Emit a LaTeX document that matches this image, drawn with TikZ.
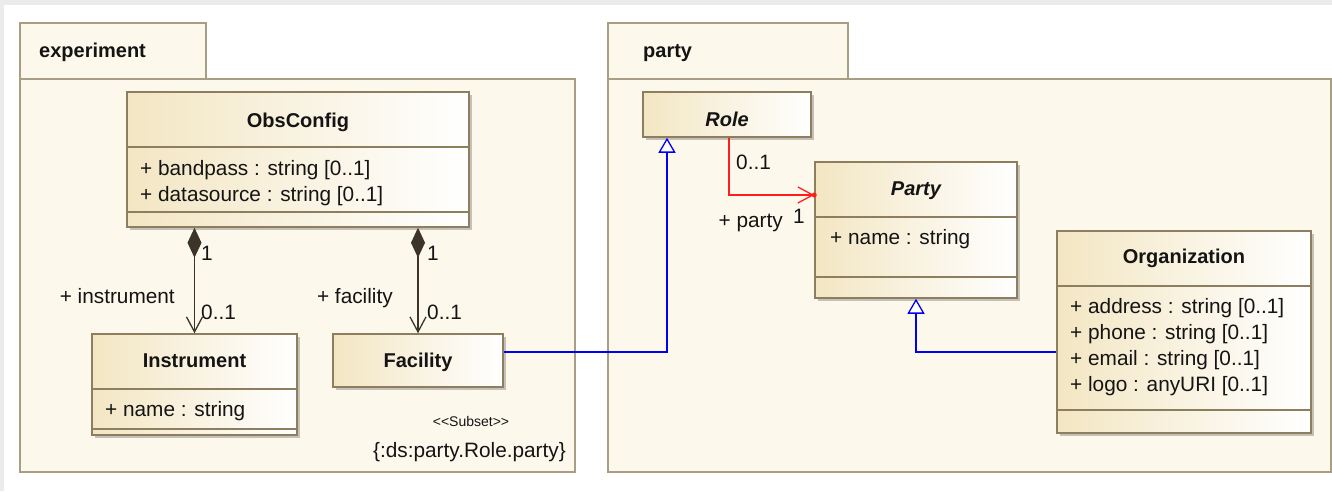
\documentclass[tikz,border=0pt]{standalone}
\usepackage{fontspec}
\setmainfont{Liberation Sans}
\usetikzlibrary{arrows.meta,shadows}
\definecolor{pkgfill}{RGB}{253,248,236}
\definecolor{pkgline}{RGB}{168,158,132}
\definecolor{clsleft}{RGB}{243,230,195}
\definecolor{clsline}{RGB}{140,126,94}
\definecolor{compc}{RGB}{60,52,40}
\definecolor{bggray}{RGB}{235,235,235}
\definecolor{genblue}{RGB}{0,0,245}
\definecolor{assocred}{RGB}{255,30,30}
\definecolor{txtc}{RGB}{20,20,20}
\begin{document}
\begin{tikzpicture}[x=1pt,y=-1pt,
  pkg/.style={draw=pkgline,fill=pkgfill,line width=1.3pt},
  cls/.style={draw=clsline,line width=1.5pt,left color=clsleft,right color=white,
    inner sep=0pt,drop shadow={shadow xshift=2.5pt,shadow yshift=-2.5pt,fill=black,opacity=0.22}},
  sep/.style={draw=clsline,line width=1.5pt},
  body/.style={font=\fontsize{20.8}{24}\selectfont,text=txtc,inner sep=0pt},
  ttl/.style={body,font=\fontsize{20}{24}\selectfont\bfseries,anchor=base},
  ittl/.style={body,font=\fontsize{20}{24}\selectfont\bfseries\itshape,anchor=base},
  attr/.style={body,anchor=base west},
  lblw/.style={body,anchor=base west},
  lble/.style={body,anchor=base east},
  small/.style={font=\fontsize{14}{16}\selectfont,text=txtc,inner sep=0pt,anchor=base},
  comp/.style={draw=compc,line width=1.3pt,
    {Diamond[length=30pt,width=14pt,fill=compc]}-{Straight Barb[length=15pt,width=16pt,line width=1.3pt]}},
  gen/.style={draw=genblue,line width=1.3pt,-{Triangle[open,length=15pt,width=17pt,fill=white]}},
  assoc/.style={draw=assocred,line width=1.3pt,-{Straight Barb[length=15pt,width=16pt,line width=1.3pt]}}
]
\useasboundingbox (0,0) rectangle (1332,491);
\fill[white] (0,0) rectangle (1332,491);
\fill[bggray] (0,0) rectangle (1332,5);
\fill[bggray] (0,0) rectangle (4,491);

% packages
\draw[pkg] (20,79) rectangle (575,472);
\draw[pkg] (20,23) rectangle (206,79);
\node[ttl,anchor=base west] (pexp) at (39,57) {experiment};
\draw[pkg] (608,79) rectangle (1331,472);
\draw[pkg] (608,23) rectangle (848,79);
\node[ttl,anchor=base west] (ppar) at (643,57) {party};

% classes
\node[cls,minimum width=342pt,minimum height=135pt] (obs) at (298,159.5) {};
\draw[sep] (127,147) -- (469,147);
\draw[sep] (127,212) -- (469,212);
\node[ttl] (tobs) at (298,127) {ObsConfig};
\node[attr] (obs1) at (140,175) {+ bandpass : string [0..1]};
\node[attr] (obs2) at (140,201) {+ datasource : string [0..1]};

\node[cls,minimum width=205pt,minimum height=101pt] (inst) at (194.5,384.5) {};
\draw[sep] (92,389) -- (297,389);
\draw[sep] (92,429) -- (297,429);
\node[ttl] (tinst) at (194.5,367) {Instrument};
\node[attr] (inst1) at (105,416) {+ name : string};

\node[cls,minimum width=170pt,minimum height=53pt] (fac) at (418,360.5) {};
\node[ttl] (tfac) at (418,367) {Facility};

\node[cls,minimum width=168pt,minimum height=45pt] (role) at (727,114.5) {};
\node[ittl] (trole) at (727,126) {Role};

\node[cls,minimum width=202pt,minimum height=136pt] (party) at (916,230) {};
\draw[sep] (815,217) -- (1017,217);
\draw[sep] (815,277) -- (1017,277);
\node[ittl] (tparty) at (916,195) {Party};
\node[attr] (party1) at (830,244) {+ name : string};

\node[cls,minimum width=254pt,minimum height=202pt] (org) at (1184,332) {};
\draw[sep] (1057,286) -- (1311,286);
\draw[sep] (1057,410) -- (1311,410);
\node[ttl] (torg) at (1184,263) {Organization};
\node[attr] (org1) at (1070,313) {+ address : string [0..1]};
\node[attr] (org2) at (1070,339) {+ phone : string [0..1]};
\node[attr] (org3) at (1070,365) {+ email : string [0..1]};
\node[attr] (org4) at (1070,391) {+ logo : anyURI [0..1]};

% connectors
\draw[comp] (obs.south -| inst.north) -- (inst.north);
\draw[comp] (obs.south -| fac.north) -- (fac.north);
\draw[gen] (fac.east |- 0,352) -| (role.south -| 667,0);
\draw[gen] (org.west |- 0,352) -| (party.south);
\draw[assoc] (role.south -| 729,0) |- (party.west |- 0,195);
\fill[assocred] (party.west |- 0,195) circle (2.5);

% labels
\node[lblw] (m1) at (201,260) {1};
\node[lble] (rinst) at (175,303) {+ instrument};
\node[lblw] (m2) at (201,319) {0..1};
\node[lblw] (m3) at (427,260) {1};
\node[lble] (rfac) at (393,303) {+ facility};
\node[lblw] (m4) at (427,319) {0..1};
\node[lblw] (m5) at (736,169) {0..1};
\node[lblw] (m6) at (793,223) {1};
\node[lble] (rparty) at (783,227) {+ party};
\node[small] (subs) at (471,426) {<{}<Subset>{}>};
\node[lble] (dsp) at (566,457) {\{:ds:party.Role.party\}};
\end{tikzpicture}
\end{document}
